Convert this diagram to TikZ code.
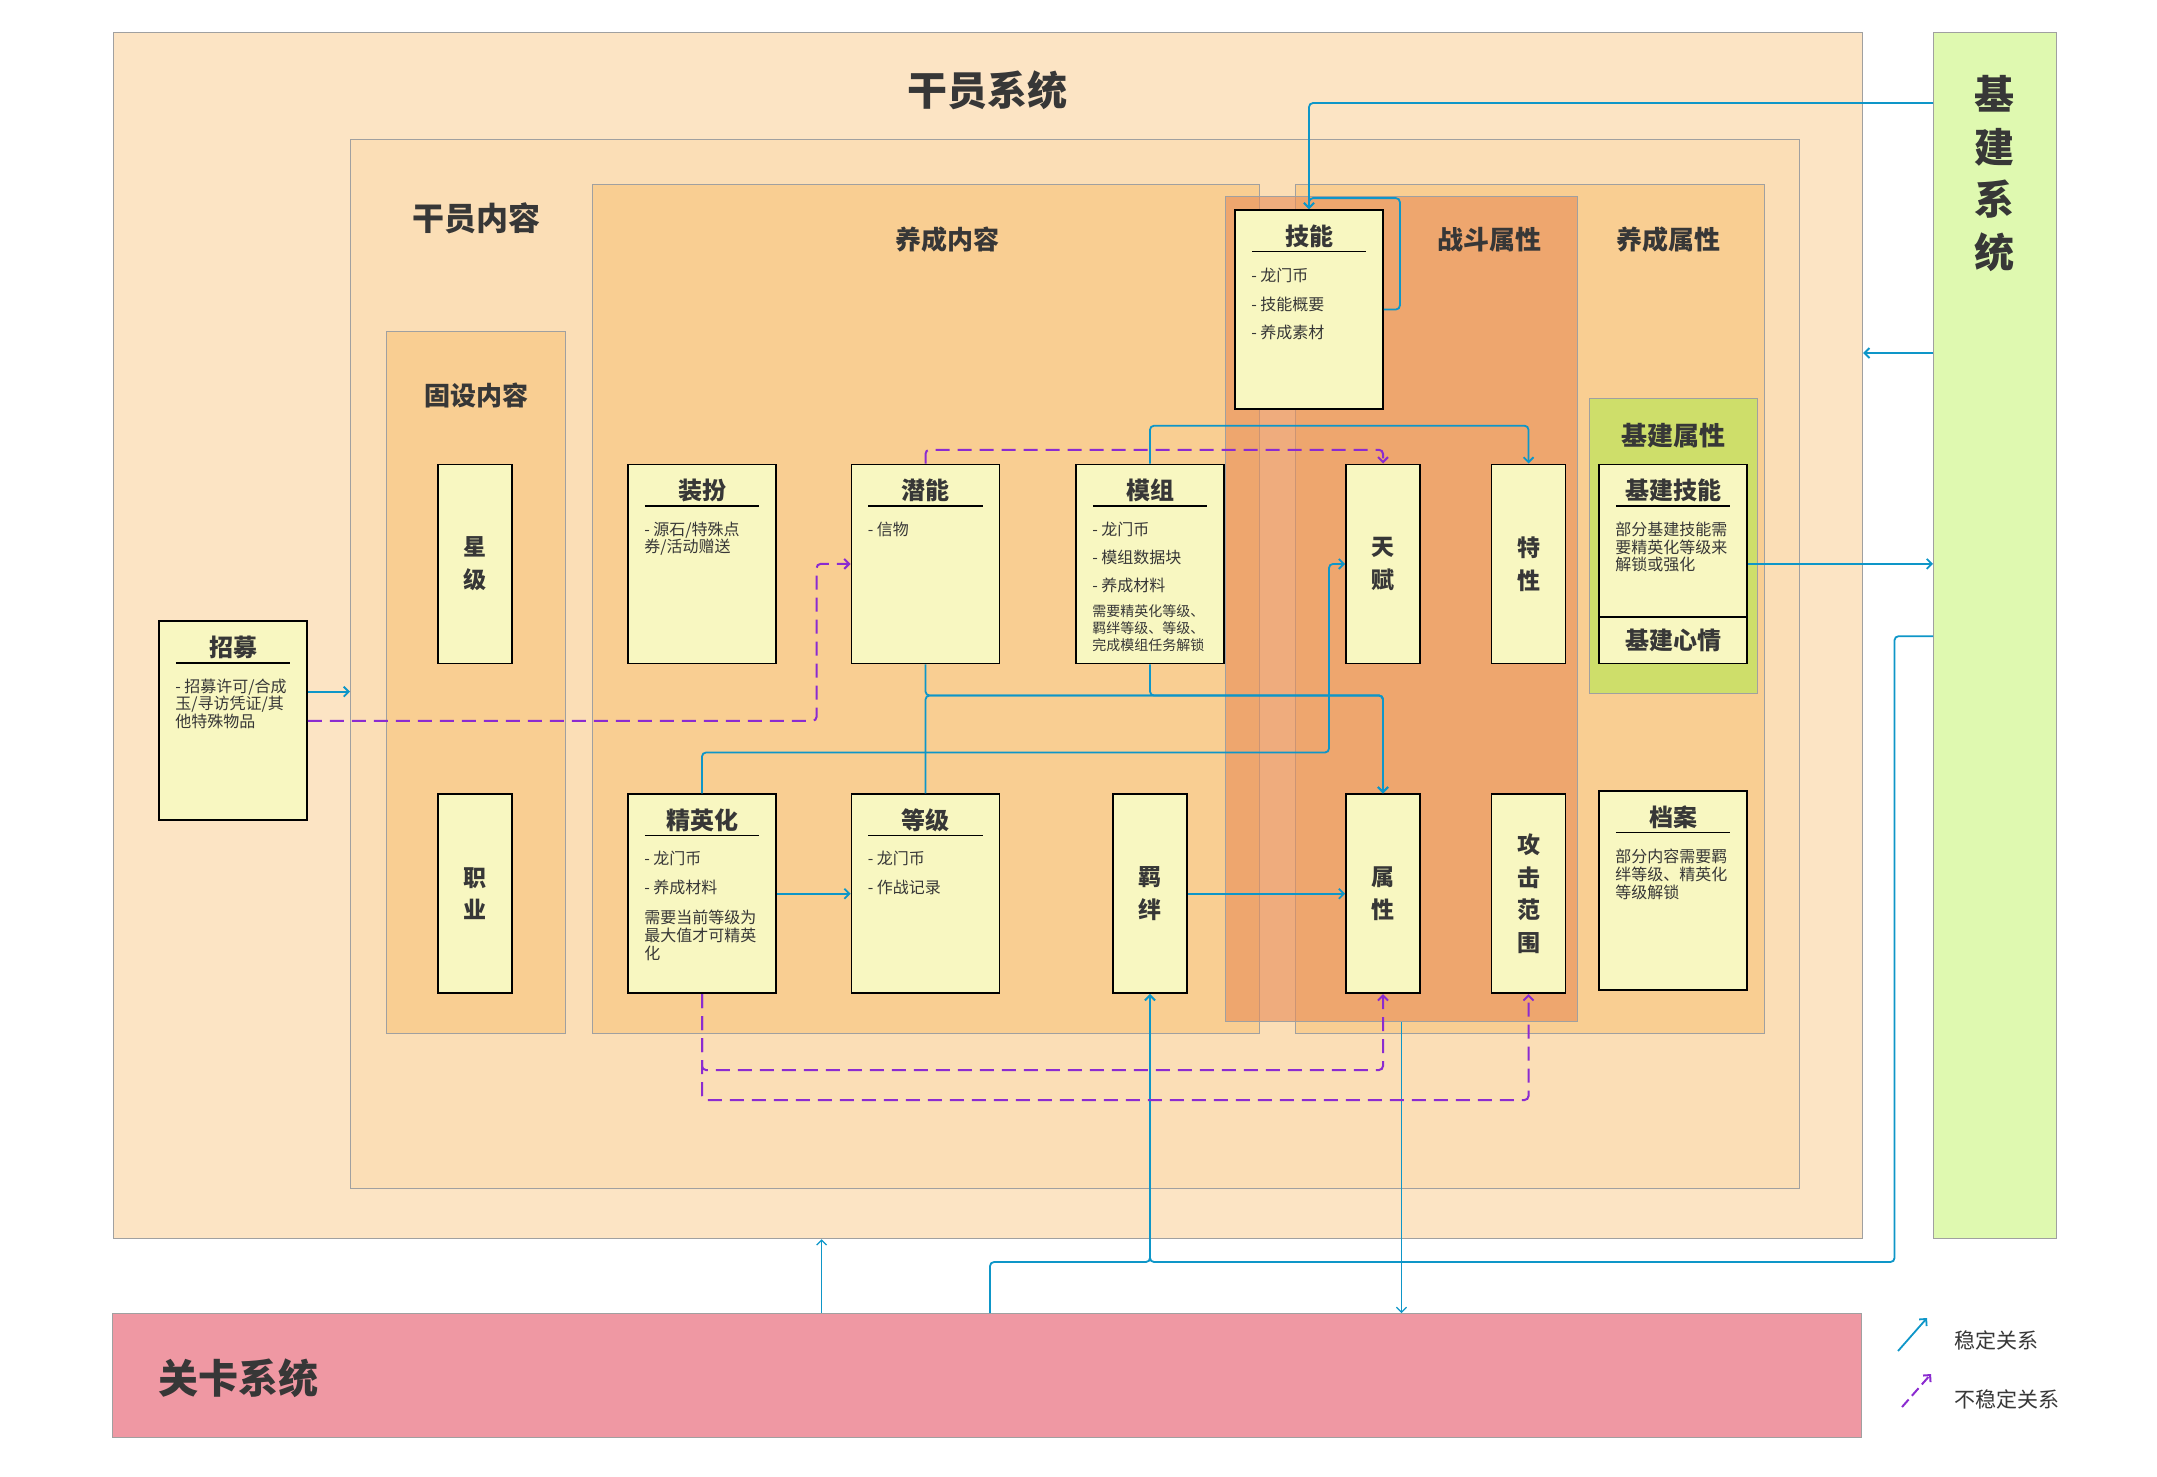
\documentclass[tikz,border=0pt]{standalone}
\usepackage{fontspec}
\setmainfont{Noto Sans CJK SC}
\usetikzlibrary{arrows.meta,positioning}

\definecolor{gyxt}{RGB}{252,228,196}
\definecolor{gynr}{RGB}{251,222,182}
\definecolor{ycnr}{RGB}{249,206,146}
\definecolor{zdorange}{RGB}{232,140,87}
\definecolor{jjgreen}{RGB}{206,222,106}
\definecolor{jjxt}{RGB}{223,249,176}
\definecolor{gkxt}{RGB}{239,152,163}
\definecolor{cardyellow}{RGB}{248,247,193}
\definecolor{edgegray}{RGB}{160,160,160}
\definecolor{linecyan}{RGB}{14,150,200}
\definecolor{linepurple}{RGB}{139,43,208}
\definecolor{txtgray}{RGB}{55,55,55}

\begin{document}
\begin{tikzpicture}[
  x=1pt, y=-1pt, >={Straight Barb[length=5pt,width=10pt]},
  font=\fontsize{16}{17.8}\selectfont, text=txtgray,
  area/.style={draw=edgegray, line width=1.2pt, anchor=north west, inner sep=0},
  ttl/.style={font=\fontsize{40}{52.4}\selectfont\bfseries},
  ttlmid/.style={font=\fontsize{32}{34}\selectfont\bfseries},
  ttlsmall/.style={font=\fontsize{26}{28}\selectfont\bfseries},
  card/.style={draw=black, line width=1.8pt, fill=cardyellow, inner sep=0, minimum width=148, minimum height=199},
  vcard/.style={card, minimum width=74, align=center, font=\fontsize{23}{32.8}\selectfont\bfseries},
  ctitle/.style={anchor=north, inner sep=0, text height=21pt, text depth=6pt, minimum width=114, font=\fontsize{24}{26}\selectfont\bfseries},
  citem/.style={anchor=north west, inner sep=0, align=left},
  uline/.style={black, line width=1.5pt},
  stable/.style={draw=linecyan, line width=1.8pt, rounded corners=4pt, ->},
  unstable/.style={draw=linepurple, line width=2pt, dash pattern=on 14pt off 8pt, rounded corners=4pt, ->},
  lgtext/.style={anchor=west, font=\fontsize{21}{22}\selectfont},
]
\useasboundingbox (0,0) rectangle (2157,1476);

% systems and areas
\node[area, fill=gyxt, minimum width=1749, minimum height=1206] (gysys) at (113,32) {};
\node[area, fill=gynr, minimum width=1449, minimum height=1049] (gynr) at (350,139) {};
\node[area, fill=ycnr, minimum width=179, minimum height=702] (gsnr) at (386,331) {};
\node[area, fill=ycnr, minimum width=667, minimum height=849] (ycnr) at (592,184) {};
\node[area, fill=ycnr, minimum width=469, minimum height=849] (ycsx) at (1295,184) {};
\node[area, fill=zdorange, fill opacity=0.6, line width=1pt, minimum width=352, minimum height=825] (zdsx) at (1225,196) {};
\node[area, fill=jjgreen, minimum width=168, minimum height=295] (jjsx) at (1589,398) {};
\node[area, fill=jjxt, minimum width=123, minimum height=1206] (jjsys) at (1933,32) {};
\node[area, fill=gkxt, minimum width=1749, minimum height=124] (gksys) at (112,1313) {};

\node[ttl] (gysys-t) at (987,90) {干员系统};
\node[ttlmid] (gynr-t) at (476,218) {干员内容};
\node[ttlsmall] (gsnr-t) at (476,395) {固设内容};
\node[ttlsmall] (ycnr-t) at (947,240) {养成内容};
\node[ttlsmall] (zdsx-t) at (1489,240) {战斗属性};
\node[ttlsmall] (ycsx-t) at (1668,240) {养成属性};
\node[ttlsmall] (jjsx-t) at (1673,436) {基建属性};
\node[ttl, align=center] (jjsys-t) at (1994,173.5) {基\\建\\系\\统};
\node[ttl, anchor=west] (gksys-t) at (155,1378) {关卡系统};

% cards
\node[card] (zhaomu) at (233,720.8) {};
\node[vcard] (xingji) at (475,563.9) {星\\级};
\node[vcard] (zhiye) at (475,893.7) {职\\业};
\node[card] (zhuangban) at (702,563.9) {};
\node[card] (jyh) at (702,893.7) {};
\node[card] (qianneng) at (925.5,563.9) {};
\node[card] (dengji) at (925.5,893.7) {};
\node[card] (mozu) at (1150,563.9) {};
\node[vcard] (jiban) at (1150,893.7) {羁\\绊};
\node[card] (jineng) at (1309,309.5) {};
\node[vcard] (tianfu) at (1383,563.9) {天\\赋};
\node[vcard] (shuxing) at (1383,893.7) {属\\性};
\node[vcard] (texing) at (1528.5,563.9) {特\\性};
\node[vcard] (gongji) at (1528.5,893.7) {攻\\击\\范\\围};
\node[card, minimum height=152.3] (jjjn) at (1673,540.6) {};
\node[card, minimum height=46.7, font=\fontsize{24}{26}\selectfont\bfseries] (jjxq) at (1673,640.1) {基建心情};
\node[card] (dangan) at (1673,890.7) {};

\node[ctitle] (zhaomu-t) at ([yshift=-15pt]zhaomu.north) {招募};
\node[ctitle] (zhuangban-t) at ([yshift=-15pt]zhuangban.north) {装扮};
\node[ctitle] (jyh-t) at ([yshift=-15pt]jyh.north) {精英化};
\node[ctitle] (qianneng-t) at ([yshift=-15pt]qianneng.north) {潜能};
\node[ctitle] (dengji-t) at ([yshift=-15pt]dengji.north) {等级};
\node[ctitle] (mozu-t) at ([yshift=-15pt]mozu.north) {模组};
\node[ctitle] (jineng-t) at ([yshift=-15pt]jineng.north) {技能};
\node[ctitle] (jjjn-t) at ([yshift=-15pt]jjjn.north) {基建技能};
\node[ctitle] (dangan-t) at ([yshift=-15pt]dangan.north) {档案};
\foreach \c in {zhaomu,zhuangban,jyh,qianneng,dengji,mozu,jineng,jjjn,dangan}
  \draw[uline] (\c-t.south west) -- (\c-t.south east);

\node[citem] (zhaomu-i) at ([shift={(17,58)}]zhaomu.north west) {- 招募许可/合成\\玉/寻访凭证/其\\他特殊物品};
\node[citem] (zhuangban-i) at ([shift={(17,58)}]zhuangban.north west) {- 源石/特殊点\\券/活动赠送};
\node[citem] (jyh-i) at ([shift={(17,58)}]jyh.north west) {- 龙门币\\[10.5pt]- 养成材料\\[12.8pt]需要当前等级为\\最大值才可精英\\化};
\node[citem] (qianneng-i) at ([shift={(17,58)}]qianneng.north west) {- 信物};
\node[citem] (dengji-i) at ([shift={(17,58)}]dengji.north west) {- 龙门币\\[10.5pt]- 作战记录};
\node[citem] (mozu-i) at ([shift={(17,58)}]mozu.north west) {- 龙门币\\[10.5pt]- 模组数据块\\[10.5pt]- 养成材料};
\node[citem, font=\fontsize{14}{16.7}\selectfont] (mozu-n) at ([shift={(17,141.4)}]mozu.north west) {需要精英化等级、\\羁绊等级、等级、\\完成模组任务解锁};
\node[citem] (jineng-i) at ([shift={(17,58.5)}]jineng.north west) {- 龙门币\\[11pt]- 技能概要\\[11pt]- 养成素材};
\node[citem] (jjjn-i) at ([shift={(17,58)}]jjjn.north west) {部分基建技能需\\要精英化等级来\\解锁或强化};
\node[citem, font=\fontsize{16}{18.2}\selectfont] (dangan-i) at ([shift={(17,58)}]dangan.north west) {部分内容需要羁\\绊等级、精英化\\等级解锁};

% stable relations
\draw[stable] (jjsys.west |- 0,103) -| (jineng.north);
\draw[stable] (jineng.east) -- ++(16,0) |- ([yshift=11pt]jineng.north) -- (jineng.north);
\draw[stable] (jjsys.west |- 0,353) -- (gysys.east |- 0,353);
\draw[stable] (jjjn.east |- 0,563.9) -- (jjsys.west |- 0,563.9);
\draw[stable] (jjsys.west |- 0,636.2) -| (1894.5,1262) -| (jiban.south);
\draw[stable] (gksys.north -| 990,0) |- (1150,1262) -- (jiban.south);
\draw[stable, line width=1.2pt] (gksys.north -| 821.6,0) -- (gysys.south -| 821.6,0);
\draw[stable, line width=1.2pt] (zdsx.south) -- (gksys.north -| zdsx.south);
\draw[stable] (zhaomu.east |- 0,691.7) -- (gynr.west |- 0,691.7);
\draw[stable] (jyh) -- (dengji);
\draw[stable] (jiban) -- (shuxing);
\draw[stable] (jyh.north) |- (1329,752.5) |- (tianfu.west);
\draw[stable] (qianneng.south) |- (shuxing.north |- 0,695.5) -- (shuxing.north);
\draw[stable] (mozu.south) |- (shuxing.north |- 0,695.5) -- (shuxing.north);
\draw[stable] (dengji.north) |- (shuxing.north |- 0,695.5) -- (shuxing.north);
\draw[stable] (mozu.north) |- (texing.north |- 0,425.7) -- (texing.north);

% unstable relations
\draw[unstable] (qianneng.north) |- (tianfu.north |- 0,449.8) -- (tianfu.north);
\draw[unstable] (zhaomu.east) -| ([xshift=-34pt]qianneng.west) -- (qianneng.west);
\draw[unstable] (jyh.south) |- (shuxing.south |- 0,1070) -- (shuxing.south);
\draw[unstable] (jyh.south) |- (gongji.south |- 0,1100) -- (gongji.south);

% legend
\coordinate (lg1a) at (1898,1351);
\coordinate (lg1b) at (1927,1318);
\coordinate (lg2a) at (1902,1407);
\coordinate (lg2b) at (1931,1374);
\draw[stable] (lg1a) -- (lg1b);
\draw[unstable, dash pattern=on 10pt off 5pt] (lg2a) -- (lg2b);
\node[lgtext] (lg1) at (1951,1340) {稳定关系};
\node[lgtext] (lg2) at (1951,1399) {不稳定关系};
\end{tikzpicture}
\end{document}
